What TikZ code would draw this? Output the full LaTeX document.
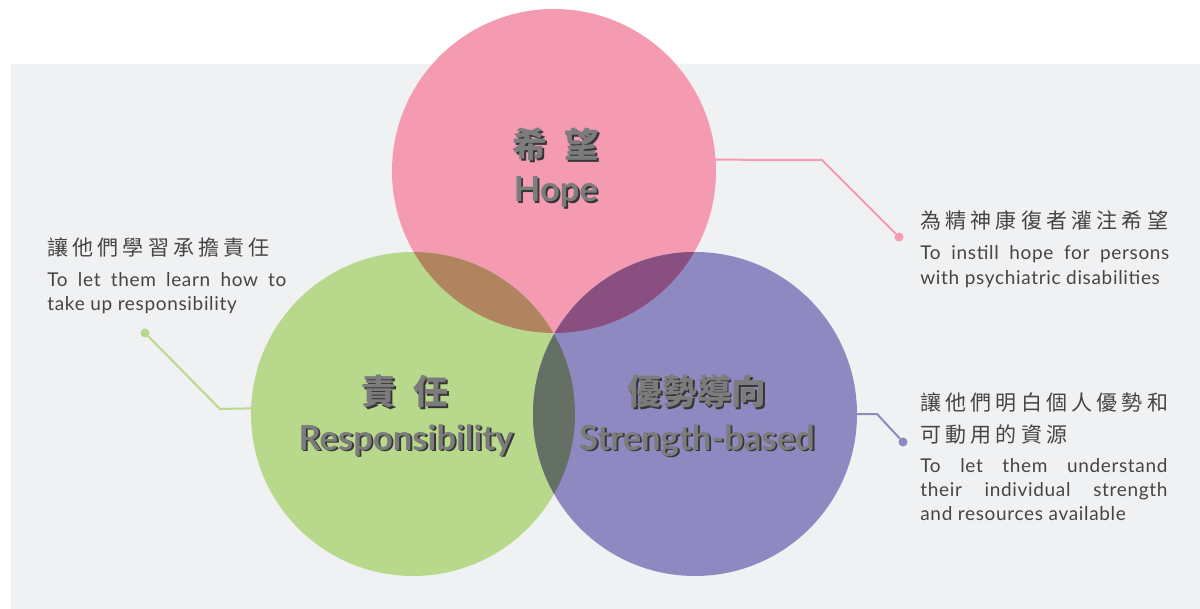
\documentclass[tikz,border=0pt]{standalone}
\usepackage{fontspec}
\setmainfont{Lato}
\newfontfamily\descfont[LetterSpace=3.5]{Lato}
\newfontfamily\cjk{Noto Sans CJK TC}
\newfontfamily\cjkwide[LetterSpace=20]{Noto Sans CJK TC}
\usetikzlibrary{positioning}

\definecolor{bg_gray}{HTML}{F0F1F3}
\definecolor{hope_pink}{HTML}{F49AB1}
\definecolor{resp_green}{HTML}{B8D98B}
\definecolor{str_purple}{HTML}{8E89C1}
\definecolor{pink_green}{HTML}{B0845E}
\definecolor{pink_purple}{HTML}{894F80}
\definecolor{green_purple}{HTML}{647064}
\definecolor{desc_gray}{HTML}{454545}
\definecolor{title_gray}{HTML}{7C7C7C}
\definecolor{shade_gray}{HTML}{363636}

\begin{document}
\begin{tikzpicture}
    [
        x=0.5pt, y=-0.5pt,
        big_circle/.style={circle, minimum size=162pt, inner sep=0pt},
        link/.style={line width=1pt, line cap=round},
        end_dot/.style={circle, minimum size=4.5pt, inner sep=0pt},
        title_text/.style={font=\fontsize{17.3}{20}\selectfont\bfseries, text=title_gray, inner sep=0pt, anchor=base},
        title_shade/.style={title_text, text=shade_gray, xshift=0.9pt, yshift=-0.9pt},
        desc_cjk/.style={font=\cjkwide\fontsize{10.5}{16}\selectfont, text=desc_gray, inner sep=0pt, anchor=base west, align=left},
        desc_en/.style={font=\descfont\fontsize{9.5}{12.2}\selectfont, text=desc_gray, inner sep=0pt, anchor=base west, align=justify},
    ]
        \useasboundingbox (0,0) rectangle (1200,609);
        \fill[bg_gray] (11,64) rectangle (1200,609);

        % the three circles
        \node[big_circle, fill=hope_pink] (hope) at (554,171) {};
        \node[big_circle, fill=resp_green] (resp) at (413,414) {};
        \node[big_circle, fill=str_purple] (strength) at (695,414) {};

        % overlaps
        \begin{scope}
            \clip (hope.center) circle (162);
            \fill[pink_green] (resp.center) circle (162);
            \fill[pink_purple] (strength.center) circle (162);
        \end{scope}
        \begin{scope}
            \clip (resp.center) circle (162);
            \fill[green_purple] (strength.center) circle (162);
        \end{scope}

        % titles
        \node[title_shade] at (556,158) {\cjk 希\hspace{0.5em}望};
        \node[title_text] (hope_cn) at (556,158) {\cjk 希\hspace{0.5em}望};
        \node[title_shade] at (556,202) {Hope};
        \node[title_text] (hope_en) at (556,202) {Hope};
        \node[title_shade] at (405,405) {\cjk 責\hspace{0.5em}任};
        \node[title_text] (resp_cn) at (405,405) {\cjk 責\hspace{0.5em}任};
        \node[title_shade] at (406,450) {Responsibility};
        \node[title_text] (resp_en) at (406,450) {Responsibility};
        \node[title_shade] at (697,405) {\cjk 優勢導向};
        \node[title_text] (str_cn) at (697,405) {\cjk 優勢導向};
        \node[title_shade] at (697,450) {Strength-based};
        \node[title_text] (str_en) at (697,450) {Strength-based};

        % leader lines
        \node[end_dot, fill=hope_pink] (hope_dot) at (899,237) {};
        \node[end_dot, fill=resp_green] (resp_dot) at (145,333) {};
        \node[end_dot, fill=str_purple] (str_dot) at (903,442) {};
        \coordinate (hope_bend) at (822,160);
        \coordinate (resp_bend) at (220,409);
        \coordinate (str_bend) at (877,414);
        \draw[link, hope_pink] (hope.4) -- (hope_bend) -- (hope_dot);
        \draw[link, resp_green] (resp.178) -- (resp_bend) -- (resp_dot);
        \draw[link, str_purple] (strength.0) -- (str_bend) -- (str_dot);

        % descriptions
        \node[desc_cjk] (hope_note_cn) at (920,229) {為精神康復者灌注希望};
        \node[desc_en, text width=124.5pt] (hope_note_en) at (920,260)
            {To instill hope for persons\linebreak with psychiatric disabilities};
        \node[desc_cjk] (resp_note_cn) at (47,256) {讓他們學習承擔責任};
        \node[desc_en, text width=119.5pt] (resp_note_en) at (47,286.5)
            {To let them learn how to\linebreak take up responsibility};
        \node[desc_cjk] (str_note_cn) at (920,442) {讓他們明白個人優勢和\\可動用的資源};
        \node[desc_en, text width=123.5pt] (str_note_en) at (920,472)
            {To let them understand\linebreak their individual strength\linebreak and resources available};
\end{tikzpicture}
\end{document}
